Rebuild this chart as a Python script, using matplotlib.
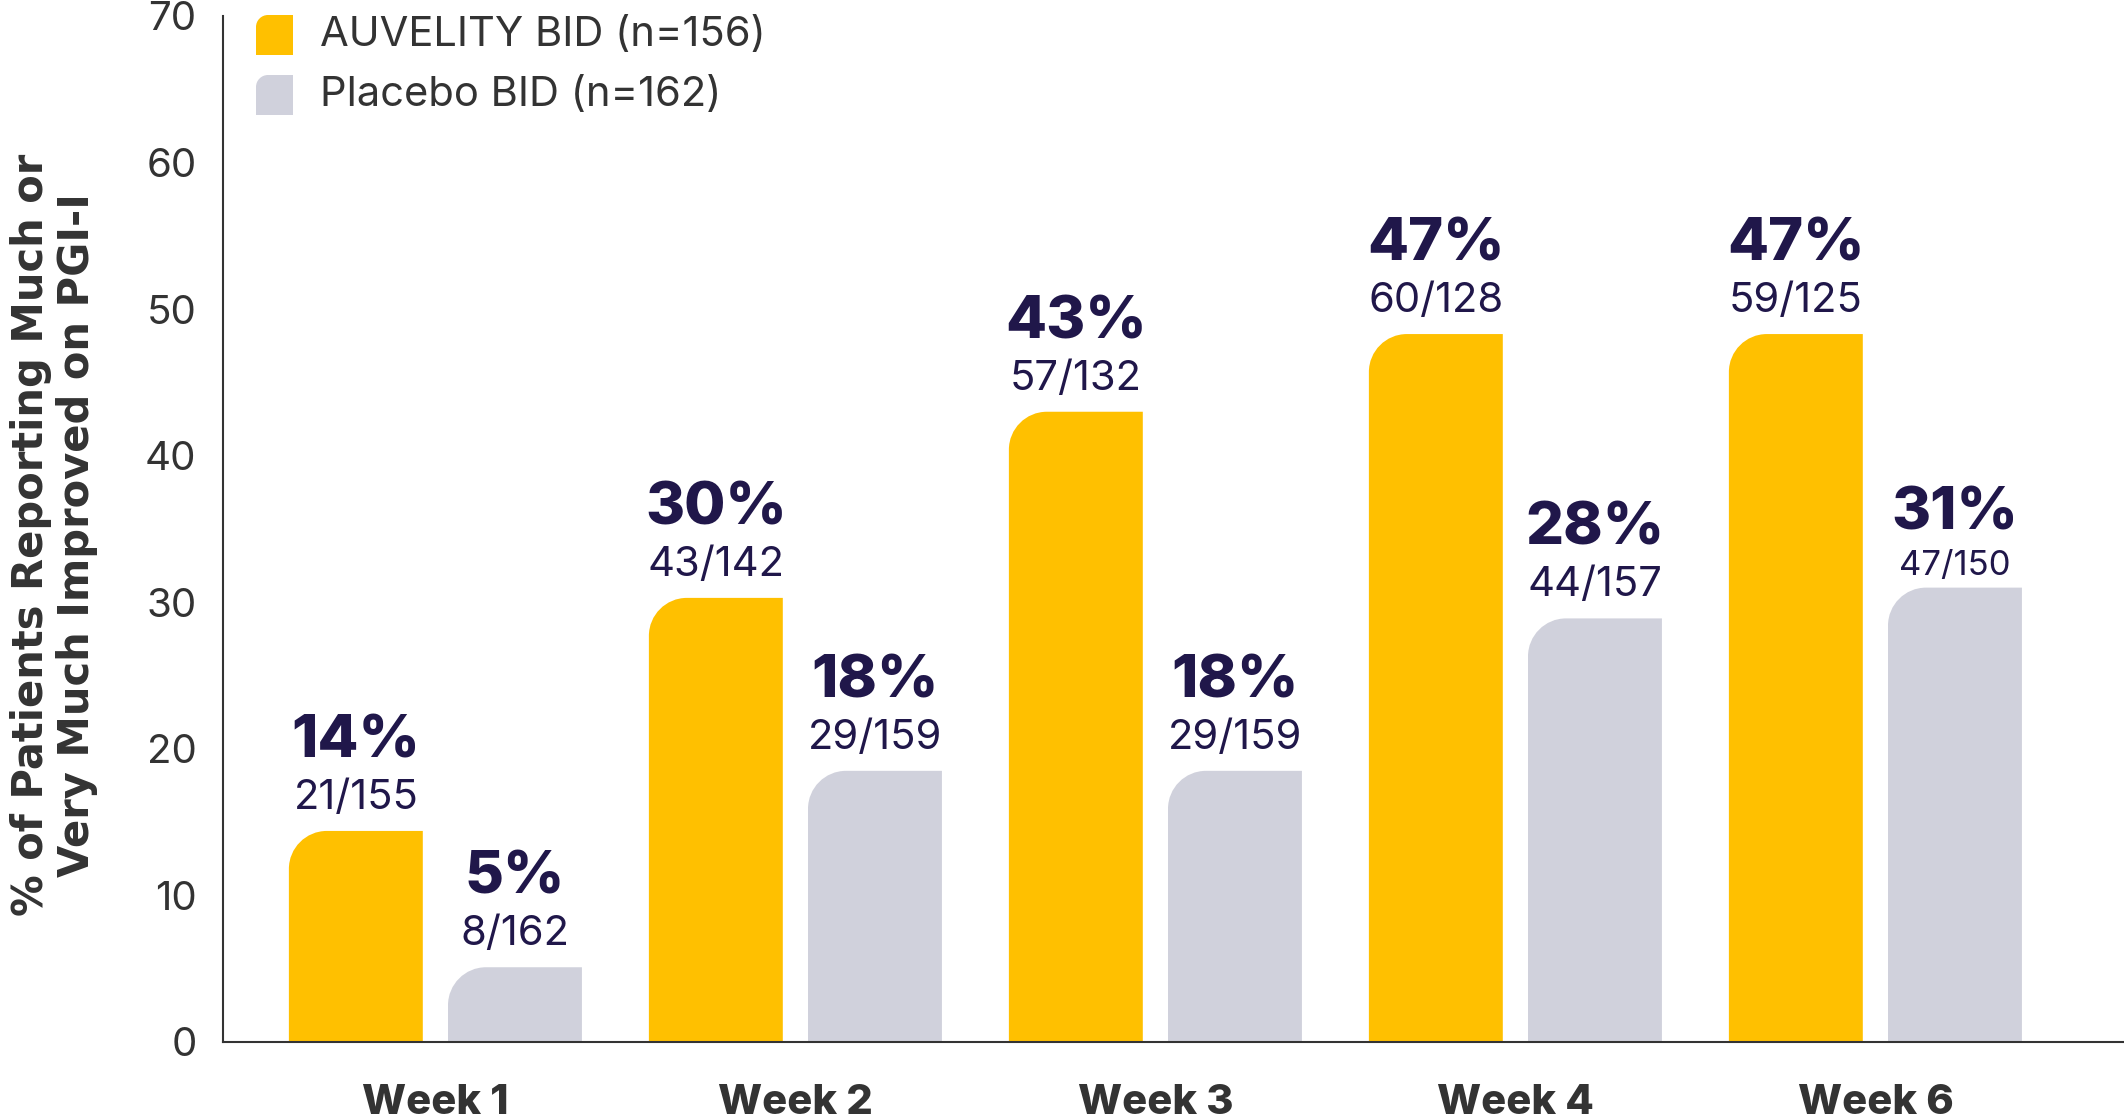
import numpy as np
import matplotlib
matplotlib.use("Agg")
import matplotlib.pyplot as plt
from matplotlib.path import Path
from matplotlib.patches import PathPatch

weeks = ["Week 1", "Week 2", "Week 3", "Week 4", "Week 6"]
auvelity = [14.4, 30.3, 43.0, 48.3, 48.3]
placebo = [5.1, 18.5, 18.5, 28.9, 31.0]
auv_pct = ["14%", "30%", "43%", "47%", "47%"]
auv_frac = ["21/155", "43/142", "57/132", "60/128", "59/125"]
pla_pct = ["5%", "18%", "18%", "28%", "31%"]
pla_frac = ["8/162", "29/159", "29/159", "44/157", "47/150"]
legend_labels = ["AUVELITY BID (n=156)", "Placebo BID (n=162)"]

YELLOW = "#FFC000"
GRAY = "#D0D1DC"
NAVY = "#20174A"
DARK = "#333333"
FONT = ["Inter", "DejaVu Sans"]

plt.rcParams['font.family'] = FONT

fig = plt.figure(figsize=(21.24, 11.2), dpi=100)
ax = fig.add_axes([223 / 2124, 78 / 1120, 1901 / 2124, 1026 / 1120])

x = np.arange(len(weeks))
w = 0.372
off = 0.221
ax.set_xlim(-0.59, -0.59 + 1901 / 360)
ax.set_ylim(0, 70)


def corner_path(x0, x1, y0, y1, rx, ry):
    k = 0.5523
    verts = [(x0, y0), (x0, y1 - ry),
             (x0, y1 - ry + k * ry), (x0 + rx - k * rx, y1), (x0 + rx, y1),
             (x1, y1), (x1, y0), (x0, y0)]
    codes = [Path.MOVETO, Path.LINETO, Path.CURVE4, Path.CURVE4, Path.CURVE4,
             Path.LINETO, Path.LINETO, Path.CLOSEPOLY]
    return Path(verts, codes)


# pixel -> data scale so the corner looks round
pos = ax.get_position()
ax_w = pos.width * 2124
ax_h = pos.height * 1120
r_px = 38
rx = r_px * (ax.get_xlim()[1] - ax.get_xlim()[0]) / ax_w
ry = r_px * 70 / ax_h

for vals, shift, col in [(auvelity, -off, YELLOW), (placebo, off, GRAY)]:
    bars = ax.bar(x + shift, vals, width=w, color=col)
    for b in bars:
        b.set_visible(False)
        bx, bw, bh = b.get_x(), b.get_width(), b.get_height()
        ax.add_patch(PathPatch(corner_path(bx, bx + bw, 0, bh, rx, ry),
                               facecolor=col, edgecolor="none"))

# (fraction size, fraction offset, percent offset) per placebo label
pla_style = [(30, 16, 53)] * 4 + [(25, 9, 42)]
for i in range(len(weeks)):
    labels = [(x[i] - off, auvelity[i], auv_pct[i], auv_frac[i], (30, 16, 53)),
              (x[i] + off, placebo[i], pla_pct[i], pla_frac[i], pla_style[i])]
    for xv, h, pct, frac, (fs, fo, po) in labels:
        ax.annotate(frac, (xv, h), xytext=(0, fo), textcoords="offset points",
                    ha="center", va="baseline", fontsize=fs, color=NAVY)
        ax.annotate(pct, (xv, h), xytext=(0, po), textcoords="offset points",
                    ha="center", va="baseline", fontsize=43, color=NAVY,
                    fontweight="heavy")

ax.set_xticks(x)
ax.set_xticklabels(weeks, fontsize=30, fontweight="heavy", color=DARK)
ax.set_yticks(np.arange(0, 71, 10))
ax.tick_params(axis="y", labelsize=29, colors=DARK, length=0, pad=19)
ax.tick_params(axis="x", length=0, pad=30)
for s in ["top", "right"]:
    ax.spines[s].set_visible(False)
for s in ["left", "bottom"]:
    ax.spines[s].set_color(DARK)
    ax.spines[s].set_linewidth(1.5)

fig.text(54 / 2124, 1 - 535 / 1120,
         "% of Patients Reporting Much or\nVery Much Improved on PGI-I",
         rotation=90, ha="center", va="center", multialignment="center",
         fontsize=30, fontweight="bold", color=DARK, linespacing=1.1,
         family=["DejaVu Sans"])

# legend with the same one-corner rounded swatches
lrx = 12 / 2124
lry = 12 / 1120
for j, (lab, col) in enumerate(zip(legend_labels, [YELLOW, GRAY])):
    top = 15 + j * 60
    y0 = 1 - (top + 40) / 1120
    y1 = 1 - top / 1120
    fig.patches.append(PathPatch(corner_path(256 / 2124, 293 / 2124, y0, y1, lrx, lry),
                                 facecolor=col, edgecolor="none",
                                 transform=fig.transFigure, figure=fig))
    fig.text(320 / 2124, 1 - (top + 20) / 1120, lab, ha="left", va="center",
             fontsize=30, color=DARK)

fig.savefig("out.png", dpi=100)
